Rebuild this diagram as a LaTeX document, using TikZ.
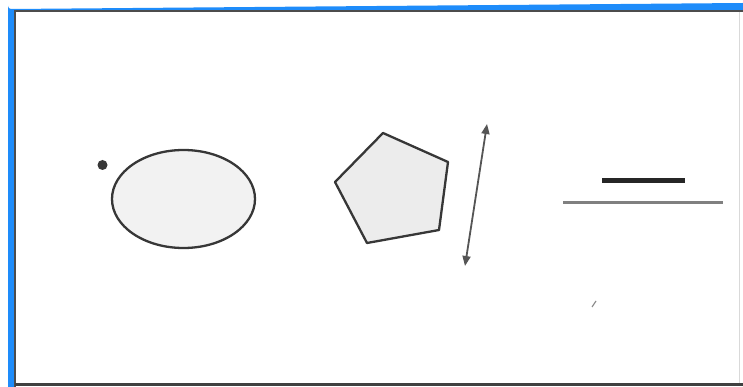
\documentclass[tikz,border=0pt]{standalone}
\usetikzlibrary{shapes.geometric,arrows.meta}
\definecolor{frameblue}{RGB}{30,140,250}
\definecolor{shapefill}{RGB}{242,242,242}
\definecolor{penfill}{RGB}{236,236,236}
\definecolor{strokegrey}{RGB}{55,55,55}
\tikzset{
  shapeline/.style={draw=strokegrey, line width=2.3pt},
  arrowline/.style={draw=strokegrey!85, line width=1.8pt, {Triangle[length=10pt,width=8pt]}-{Triangle[length=10pt,width=8pt]}},
  thickbar/.style={draw=black!85, line width=5pt},
  thinbar/.style={draw=black!50, line width=3pt},
}
\begin{document}
\begin{tikzpicture}[x=1pt,y=-1pt]
\useasboundingbox (0,0) rectangle (743,387);
% blue frame
\fill[frameblue] (8,387) -- (8,6) arc[start angle=180,end angle=90,radius=3] -- (743,3) -- (743,10) -- (14,10) -- (14,387) -- cycle;
% inner grey border
\draw[black!70, line width=1.6pt] (15,387) -- (15,10.8) -- (743,10.8);
\draw[black!75, line width=2.2pt] (15,384.5) -- (743,384.5);
\draw[black!15, line width=0.8pt] (739,12) -- (739,383);
% dot
\node[circle, fill=strokegrey, inner sep=0pt, minimum size=10pt] (dot) at (102.5,165) {};
% ellipse
\node[ellipse, shapeline, fill=shapefill, minimum width=143pt, minimum height=98pt, inner sep=0pt] (ell) at (183.5,199) {};
% pentagon
\coordinate (p1) at (383,133);
\coordinate (p2) at (448,162);
\coordinate (p3) at (439,230);
\coordinate (p4) at (367,243);
\coordinate (p5) at (335,182);
\draw[shapeline, fill=penfill, line join=round] (p1) -- (p2) -- (p3) -- (p4) -- (p5) -- cycle;
% double arrow
\coordinate (at) at (487,124);
\coordinate (ab) at (465,266);
\draw[arrowline] (at) -- (ab);
% bars
\coordinate (b1) at (602,181);
\coordinate (b2) at (685,181);
\draw[thickbar] (b1) -- (b2);
\coordinate (c1) at (563,203);
\coordinate (c2) at (723,203);
\draw[thinbar] (c1) -- (c2);
% small speck
\coordinate (s1) at (592,307);
\coordinate (s2) at (596,301);
\draw[black!45, line width=1.2pt] (s1) -- (s2);
\end{tikzpicture}
\end{document}
